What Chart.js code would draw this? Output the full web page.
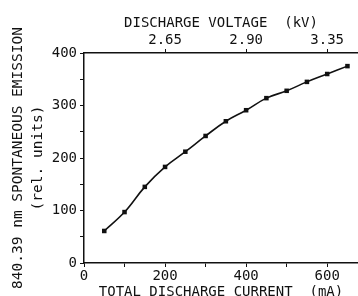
<!DOCTYPE html>
<html>
<head>
<meta charset="utf-8">
<script src="https://cdn.jsdelivr.net/npm/chart.js@4"></script>
<style>
    html, body { margin: 0; padding: 0; background: #fff; }
    #wrap { width: 358px; height: 296px; }
</style>
</head>
<body>
<div id="wrap"><canvas id="chart"></canvas></div>
<script>
    // Measured points (total discharge current in mA vs. emission in rel. units)
    const currents = [50, 100, 150, 200, 250, 300, 350, 400, 450, 500, 550, 600, 650];
    const emission = [61, 97, 145, 183, 212, 242, 270, 291, 314, 328, 345, 360, 375];

    // Bottom axis: tick marks every 100 mA, labels every 200 mA
    const currentTicks = [0, 100, 200, 300, 400, 500, 600];
    const currentLabelTicks = [0, 200, 400, 600];

    // Top axis: discharge voltage read at the matching currents
    const voltageTickCurrents = [200, 400, 600];
    const voltageLabels = ['2.65', '2.90', '3.35'];

    // Left axis: tick marks every 50, labels every 100
    const emissionTicks = [0, 50, 100, 150, 200, 250, 300, 350, 400];
    const emissionLabelTicks = [0, 100, 200, 300, 400];

    const font = { family: "'DejaVu Sans Mono', monospace", size: 14, lineHeight: 1.2 };
    const ink = '#111';

    const points = currents.map((c, i) => ({ x: c, y: emission[i] }));

    // shared look of tick marks and axis lines
    const axisGrid = {
        drawOnChartArea: false,
        drawTicks: true,
        tickLength: 4,
        tickWidth: 1,
        color: ink
    };
    const axisBorder = { display: true, color: ink, width: 1.5 };

    new Chart(document.getElementById('chart'), {
        type: 'scatter',
        data: {
            datasets: [{
                data: points,
                showLine: true,
                borderColor: ink,
                borderWidth: 1.6,
                tension: 0.4,
                pointStyle: 'rect',
                pointRadius: 3.2,
                pointBackgroundColor: ink,
                pointBorderColor: ink,
                pointBorderWidth: 0
            }]
        },
        options: {
            responsive: true,
            maintainAspectRatio: false,
            animation: false,
            layout: { padding: 0, autoPadding: false },
            plugins: {
                legend: { display: false },
                tooltip: { enabled: false }
            },
            scales: {
                x: {
                    type: 'linear',
                    position: 'bottom',
                    min: 0,
                    max: 676,
                    afterBuildTicks: scale => { scale.ticks = currentTicks.map(v => ({ value: v })); },
                    afterFit: scale => { scale.height = 33; },
                    grid: axisGrid,
                    border: axisBorder,
                    ticks: {
                        color: ink,
                        font: font,
                        padding: 1,
                        maxRotation: 0,
                        autoSkip: false,
                        callback: v => currentLabelTicks.includes(v) ? String(v) : ''
                    },
                    title: {
                        display: true,
                        text: 'TOTAL DISCHARGE CURRENT  (mA)',
                        color: ink,
                        font: font,
                        padding: { top: 0, bottom: -5 }
                    }
                },
                x2: {
                    type: 'linear',
                    position: 'top',
                    min: 0,
                    max: 676,
                    afterBuildTicks: scale => { scale.ticks = voltageTickCurrents.map(v => ({ value: v })); },
                    afterFit: scale => { scale.height = 53; },
                    grid: axisGrid,
                    border: axisBorder,
                    ticks: {
                        color: ink,
                        font: font,
                        padding: 0,
                        maxRotation: 0,
                        autoSkip: false,
                        callback: v => voltageLabels[voltageTickCurrents.indexOf(v)]
                    },
                    title: {
                        display: true,
                        text: 'DISCHARGE VOLTAGE  (kV)',
                        color: ink,
                        font: font,
                        padding: { top: 15, bottom: 0 }
                    }
                },
                y: {
                    min: 0,
                    max: 400,
                    afterBuildTicks: scale => { scale.ticks = emissionTicks.map(v => ({ value: v })); },
                    afterFit: scale => { scale.width = 84; },
                    grid: axisGrid,
                    border: axisBorder,
                    ticks: {
                        color: ink,
                        font: font,
                        padding: 3,
                        autoSkip: false,
                        callback: v => emissionLabelTicks.includes(v) ? String(v) : ''
                    },
                    title: {
                        display: true,
                        text: ['840.39 nm SPONTANEOUS EMISSION', '(rel. units)'],
                        color: ink,
                        font: { family: font.family, size: 14.5, lineHeight: 1.38 },
                        padding: { top: 8, bottom: 0 }
                    }
                }
            }
        }
    });
</script>
</body>
</html>
